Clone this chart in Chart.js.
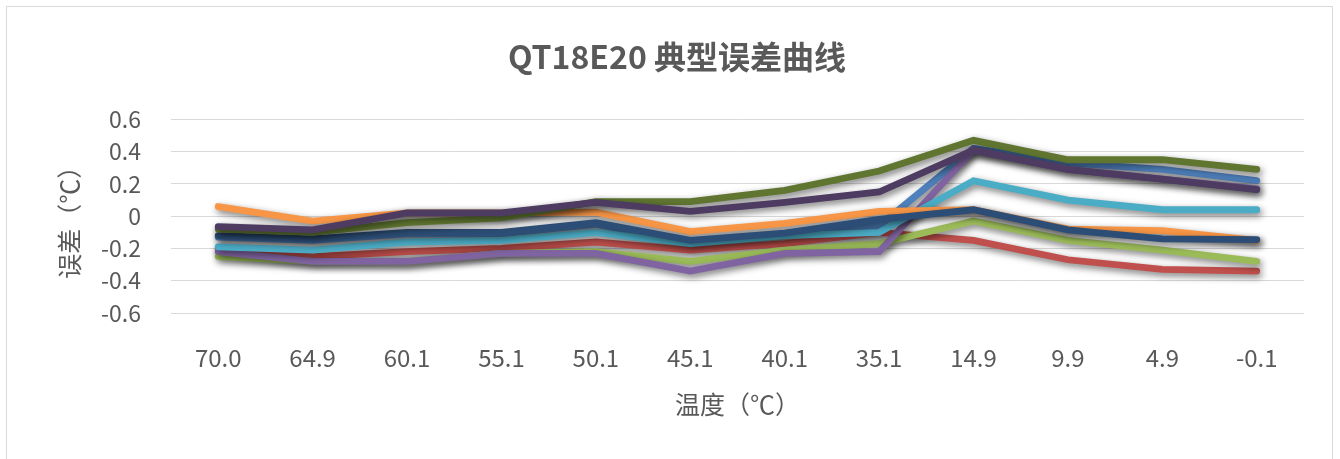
<!DOCTYPE html>
<html><head><meta charset="utf-8">
<script src="https://cdn.jsdelivr.net/npm/chart.js@4"></script>
<style>
html,body{margin:0;padding:0;background:#fff;}
#frame{position:absolute;left:6px;top:6px;width:1327px;height:460px;border:1px solid #D9D9D9;box-sizing:border-box;}
#wrap{position:absolute;left:0;top:0;width:1340px;height:459px;}
</style></head><body>
<div id="frame"></div>
<div id="wrap"><canvas id="c" width="1340" height="459"></canvas></div>
<script>
const categories = ['70.0','64.9','60.1','55.1','50.1','45.1','40.1','35.1','14.9','9.9','4.9','-0.1'];
const yTicks = [-0.6,-0.4,-0.2,0,0.2,0.4,0.6];
const s1 = [-0.13,-0.15,-0.11,-0.11,-0.05,-0.17,-0.11,-0.06,0.42,0.33,0.29,0.22];
const s2 = [-0.20,-0.25,-0.22,-0.20,-0.16,-0.21,-0.17,-0.10,-0.15,-0.27,-0.33,-0.34];
const s3 = [-0.25,-0.28,-0.28,-0.23,-0.22,-0.28,-0.21,-0.17,-0.03,-0.15,-0.21,-0.28];
const s4 = [-0.22,-0.28,-0.28,-0.23,-0.23,-0.34,-0.23,-0.22,0.41,0.29,0.23,0.17];
const s5 = [-0.19,-0.21,-0.16,-0.15,-0.10,-0.17,-0.12,-0.10,0.22,0.10,0.04,0.04];
const s6 = [0.06,-0.03,0.02,0.02,0.025,-0.095,-0.045,0.03,0.04,-0.08,-0.09,-0.15];
const s7 = [-0.12,-0.14,-0.10,-0.10,-0.04,-0.15,-0.105,-0.02,0.04,-0.085,-0.14,-0.145];
const s8 = [-0.08,-0.10,-0.04,-0.01,0.09,0.09,0.16,0.28,0.47,0.35,0.35,0.29];
const s9 = [-0.065,-0.085,0.02,0.02,0.085,0.03,0.085,0.15,0.41,0.29,0.23,0.165];
const seriesNames = ['1','2','3','4','5','6','7','8','9'];
const seriesColors = ['#4F81BD','#C0504D','#9BBB59','#8064A2','#4BACC6','#F79646','#2C4D75','#5F7530','#4D3B62'];
const seriesData = [s1,s2,s3,s4,s5,s6,s7,s8,s9];

const shadowPlugin = {
  id:'shadow',
  beforeDatasetDraw(chart){ const ctx=chart.ctx; ctx.save(); ctx.shadowColor='rgba(0,0,0,0.55)'; ctx.shadowBlur=7; ctx.shadowOffsetX=2; ctx.shadowOffsetY=3; },
  afterDatasetDraw(chart){ chart.ctx.restore(); }
};

const FONT = "'Noto Sans CJK SC','Noto Sans',sans-serif";
new Chart(document.getElementById('c'), {
  type:'line',
  data:{
    labels: categories,
    datasets: seriesData.map((d,i)=>({
      label: seriesNames[i], data: d, borderColor: seriesColors[i], backgroundColor: seriesColors[i],
      borderWidth: 6.8, pointRadius: 0, tension: 0, fill: false, borderCapStyle:'round', borderJoinStyle:'miter',
      order: seriesData.length - i
    }))
  },
  plugins:[shadowPlugin],
  options:{
    responsive:false, animation:false,
    layout:{padding:{left:50,right:36,top:6,bottom:0}},
    plugins:{
      legend:{display:false}, tooltip:{enabled:false},
      title:{display:true, text:'QT18E20 典型误差曲线', color:'#595959',
        font:{family:FONT, size:32, weight:'bold'}, padding:{top:32, bottom:43}}
    },
    scales:{
      x:{
        offset:true,
        grid:{display:false, drawTicks:false}, border:{display:false},
        ticks:{color:'#595959', font:{family:FONT, size:24}, padding:30, maxRotation:0, autoSkip:false},
        title:{display:true, text:'温度（℃）', color:'#595959', font:{family:FONT, size:25}, padding:{top:0,bottom:40}},
        afterFit(s){ s.height = 146; }
      },
      y:{
        min:-0.6, max:0.6,
        afterBuildTicks(s){ s.ticks = yTicks.map(v=>({value:v})); },
        grid:{color:'#D9D9D9', lineWidth:1, drawTicks:false}, border:{display:false},
        ticks:{color:'#595959', font:{family:FONT, size:23}, padding:30,
          callback:(v)=> v===0 ? '0' : v.toFixed(1)},
        title:{display:true, text:'误差（℃）', color:'#595959', font:{family:FONT, size:25}, padding:{top:4,bottom:0}},
        afterFit(s){ s.width = 121; }
      }
    }
  }
});
</script>
</body></html>
